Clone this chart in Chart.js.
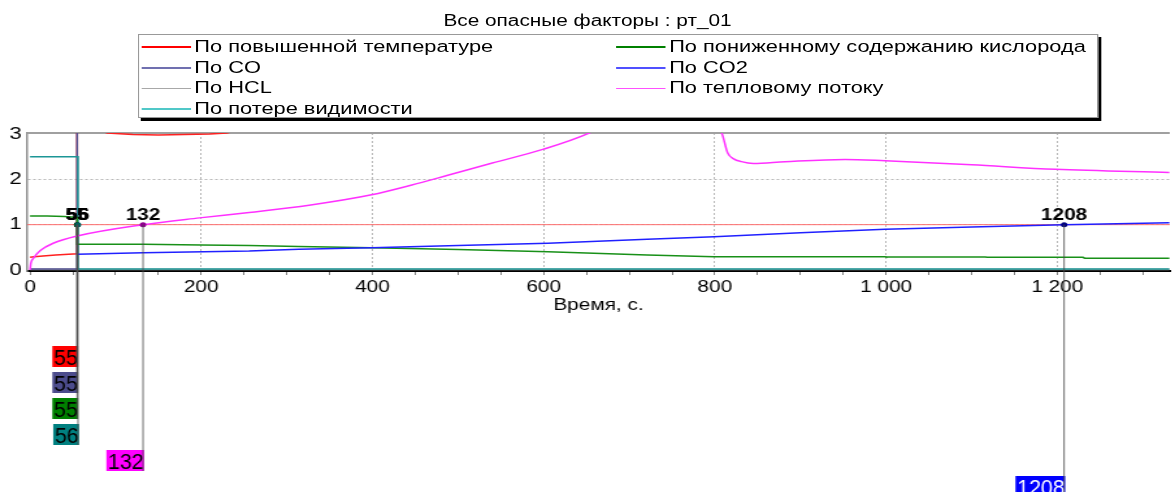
<!DOCTYPE html>
<html>
<head>
<meta charset="utf-8">
<script src="https://cdn.jsdelivr.net/npm/chart.js@4/dist/chart.umd.min.js"></script>
<style>
html, body { margin: 0; padding: 0; background: #fff; overflow: hidden; }
#wrap { position: absolute; left: 0; top: 0; width: 904px; height: 492px; transform: scaleX(1.2998); transform-origin: 0 0; font-family: "Liberation Sans", Arial, sans-serif; color: #000; }
#chart { position: absolute; left: 0; top: 0; }
#title { position: absolute; top: 11px; left: 0; width: 904px; text-align: center; font-size: 16px; line-height: 20px; }
#legend { position: absolute; left: 106px; top: 34px; width: 739px; height: 84px; box-sizing: border-box; border: 1px solid #999; box-shadow: 2.3px 3px 0 #000; background: #fff; }
.item { position: absolute; display: flex; align-items: center; height: 20.5px; font-size: 16.8px; white-space: nowrap; }
.item i { display: inline-block; width: 38.5px; height: 1.6px; margin-right: 2.5px; }
</style>
</head>
<body>
<div id="wrap">
  <canvas id="chart" width="904" height="492"></canvas>
  <div id="title">Все опасные факторы : рт_01</div>
  <div id="legend"></div>
</div>
<script>
// time, s / value for each hazard (normalised to critical value)
const tempT = [0, 5, 15, 30, 45, 55, 55, 75, 90, 120, 150, 180, 210, 230, 245, 300, 600, 1331];
const tempV = [0.28, 0.29, 0.31, 0.33, 0.35, 0.36, 6.0, 3.15, 3.02, 2.99, 2.98, 2.99, 3.0, 3.02, 3.1, 3.6, 5.0, 6.0];

const coT = [0, 55, 55, 1331];
const coV = [0.02, 0.02, 8, 8];

const hclT = [0, 1331];
const hclV = [0.01, 0.01];

const visT = [0, 56, 56, 1331];
const visV = [2.5, 2.5, 0.02, 0.02];

const o2T = [0, 20, 40, 55, 55, 132, 200, 256, 314, 399, 500, 605, 721, 799, 900, 999, 1000, 1116, 1118, 1230, 1232, 1331];
const o2V = [1.19, 1.19, 1.18, 1.16, 0.57, 0.57, 0.55, 0.54, 0.52, 0.49, 0.45, 0.40, 0.33, 0.29, 0.29, 0.29, 0.285, 0.285, 0.28, 0.28, 0.26, 0.26];

const co2T = [55, 132, 256, 314, 399, 500, 605, 721, 799, 900, 999, 1100, 1208, 1331];
const co2V = [0.35, 0.38, 0.42, 0.46, 0.49, 0.54, 0.59, 0.68, 0.735, 0.82, 0.9, 0.95, 1.0, 1.045];

const heatT = [0, 0.5, 1, 4, 12, 27, 55, 132, 198, 256, 326, 399, 445, 488, 540, 599, 653, 700, 760, 808, 815, 822, 831, 845, 882, 952, 999, 1100, 1198, 1331];
const heatV = [0, 0.08, 0.15, 0.26, 0.43, 0.59, 0.75, 1.0, 1.15, 1.27, 1.43, 1.66, 1.87, 2.09, 2.36, 2.66, 3.02, 3.5, 3.8, 3.02, 2.58, 2.45, 2.39, 2.35, 2.39, 2.44, 2.41, 2.32, 2.22, 2.15];

// times when each factor reaches the critical value
const critT = [55, 55, 55, 56, 132, 1208];
const critBox = ['#ff0000', '#4c4c8c', '#008000', '#008080', '#ff00ff', '#0000ff'];
const critText = ['#000', '#000', '#000', '#000', '#000', '#fff'];
const critDot = ['#800000', '#303060', '#004000', '#006060', '#900090', '#000080'];

const seriesNames = ['По повышенной температуре', 'По CO', 'По HCL', 'По потере видимости',
                     'По пониженному содержанию кислорода', 'По CO2', 'По тепловому потоку'];
const legendColors = ['#ff0000', '#7070b0', '#a8a8a8', '#50c8c8', '#008000', '#5050ff', '#ff50ff'];

const xMajor = [0, 200, 400, 600, 800, 1000, 1200];
const xLabels = ['0', '200', '400', '600', '800', '1 000', '1 200'];
const yTicks = [0, 1, 2, 3];
const threshold = 1;
const xMin = -3.5, xMax = 1331.5, yMin = -0.022, yMax = 3.022;

const FONT = '"Liberation Sans", Arial, sans-serif';

// html legend, two columns
const legend = document.getElementById('legend');
seriesNames.forEach((name, i) => {
  const col = i < 4 ? 0 : 1;
  const row = i < 4 ? i : i - 4;
  const d = document.createElement('div');
  d.className = 'item';
  d.style.left = (col === 0 ? 1.5 : 366.8) + 'px';
  d.style.top = (2 + row * 20.6) + 'px';
  d.innerHTML = '<i style="background:' + legendColors[i] + '"></i>' + name;
  legend.appendChild(d);
});

function pts(t, v) { return t.map((x, i) => ({x: x, y: v[i]})); }

function line(data, color, extra) {
  return Object.assign({type: 'line', data: data, borderColor: color, borderWidth: 1.5,
    pointRadius: 0, fill: false, tension: 0}, extra || {});
}

const markers = {
  id: 'markers',
  beforeDatasetsDraw(chart) {
    const {ctx, chartArea} = chart;
    ctx.save();
    ctx.strokeStyle = '#a0a0a0';
    ctx.lineWidth = 2;
    ctx.beginPath();
    ctx.moveTo(chartArea.left, chartArea.top);
    ctx.lineTo(chartArea.right, chartArea.top);
    ctx.stroke();
    ctx.restore();
  },
  afterDraw(chart) {
    const {ctx, chartArea} = chart;
    const xs = chart.scales.x, ys = chart.scales.y;
    const y1 = ys.getPixelForValue(threshold);
    ctx.save();
    // coloured boxes under the axis
    critT.forEach((t, i) => {
      const x = xs.getPixelForValue(t);
      const top = chartArea.bottom + 75 + 26 * i;
      const txt = String(t);
      ctx.font = '22px ' + FONT;
      const sx = 0.75;
      const w = ctx.measureText(txt).width * sx;
      ctx.fillStyle = critBox[i];
      ctx.fillRect(x + 0.8 - w - 1.5, top, w + 1.5, 21);
      ctx.save();
      ctx.translate(x + 0.5, top + 19);
      ctx.scale(sx, 1);
      ctx.fillStyle = critText[i];
      ctx.textAlign = 'right';
      ctx.textBaseline = 'alphabetic';
      ctx.fillText(txt, 0, 0);
      ctx.restore();
    });
    // drop lines
    critT.forEach((t, i) => {
      const x = xs.getPixelForValue(t);
      const top = chartArea.bottom + 75 + 26 * i;
      ctx.strokeStyle = '#4a4a4a';
      ctx.lineWidth = 0.8;
      ctx.beginPath();
      ctx.moveTo(x, y1);
      ctx.lineTo(x, top + 21);
      ctx.stroke();
    });
    // bold labels above the points
    ctx.font = 'bold 16px ' + FONT;
    ctx.fillStyle = '#000';
    ctx.textAlign = 'center';
    ctx.textBaseline = 'alphabetic';
    critT.forEach((t) => {
      ctx.fillText(String(t), xs.getPixelForValue(t), y1 - 5);
    });
    ctx.restore();
  }
};

new Chart(document.getElementById('chart').getContext('2d'), {
  data: {
    datasets: [
      {type: 'scatter', data: critT.map(t => ({x: t, y: threshold})), pointRadius: 2.5,
        pointBackgroundColor: critDot, pointBorderColor: critDot, borderWidth: 0, showLine: false},
      line(pts(heatT, heatV), '#ff30ff', {cubicInterpolationMode: 'monotone'}),
      line(pts(co2T, co2V), '#2020ff'),
      line(pts(o2T, o2V), '#189018'),
      line(pts(visT, visV), '#1c9696'),
      line(pts(coT, coV), '#505090'),
      line(pts(hclT, hclV), '#a0a0a0'),
      line(pts(tempT, tempV), '#ff2020'),
      line([{x: xMin, y: threshold}, {x: xMax, y: threshold}], '#ff7070', {borderWidth: 1})
    ]
  },
  options: {
    responsive: false,
    animation: false,
    events: [],
    layout: {padding: {top: 133, left: 0, right: 0, bottom: 174}},
    plugins: {legend: {display: false}, tooltip: {enabled: false}, title: {display: false}},
    scales: {
      x: {
        type: 'linear', min: xMin, max: xMax,
        afterBuildTicks: (s) => {
          const t = [];
          for (let v = 0; v <= 1300; v += 50) t.push({value: v});
          s.ticks = t;
        },
        afterFit: (s) => { s.height = 47; },
        ticks: {
          autoSkip: false, maxRotation: 0, padding: 3, color: '#000',
          font: {family: FONT, size: 16},
          callback: (v) => { const k = xMajor.indexOf(v); return k >= 0 ? xLabels[k] : ''; }
        },
        grid: {
          color: (c) => (c.tick && xMajor.indexOf(c.tick.value) > 0) ? '#b8b8b8' : 'rgba(0,0,0,0)',
          tickColor: '#808080', tickLength: 4, lineWidth: 1
        },
        border: {color: '#000', width: 2, dash: [2, 2]},
        title: {display: true, text: 'Время, с.', color: '#000', font: {family: FONT, size: 16}, padding: 3}
      },
      y: {
        type: 'linear', min: yMin, max: yMax,
        afterBuildTicks: (s) => { s.ticks = yTicks.map(v => ({value: v})); },
        afterFit: (s) => { s.width = 20.8; },
        ticks: {color: '#000', padding: 4, font: {family: FONT, size: 17}},
        grid: {
          color: (c) => (c.tick && c.tick.value > 0) ? '#b8b8b8' : 'rgba(0,0,0,0)',
          drawTicks: false, lineWidth: 1
        },
        border: {color: '#909090', width: 1.5, dash: [2, 2]}
      }
    }
  },
  plugins: [markers]
});
</script>
</body>
</html>
